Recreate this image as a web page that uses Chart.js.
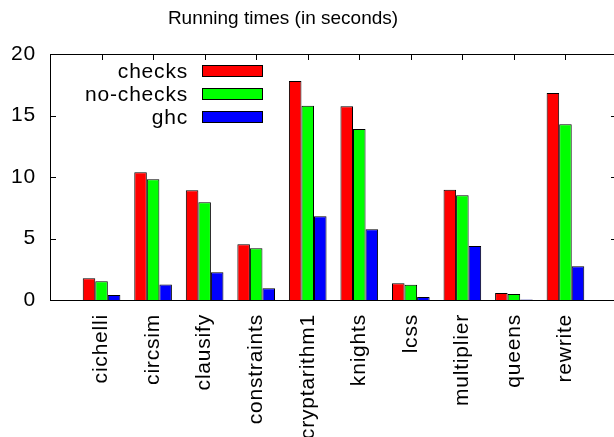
<!DOCTYPE html>
<html>
<head>
<meta charset="utf-8">
<script src="https://cdn.jsdelivr.net/npm/chart.js@4.4.0/dist/chart.umd.min.js"></script>
<style>
html, body { margin: 0; padding: 0; background: #fff; overflow: hidden; }
#wrap { width: 618px; height: 437px; }
</style>
</head>
<body>
<div id="wrap"><canvas id="chart" width="618" height="437"></canvas></div>
<script>
// benchmark programs (x axis)
var programs = ["cichelli", "circsim", "clausify", "constraints", "cryptarithm1",
                "knights", "lcss", "multiplier", "queens", "rewrite"];

// running times in seconds
var checks   = [1.76, 10.38, 8.92, 4.53, 17.80, 15.75, 1.36, 8.97, 0.57, 16.83];
var noChecks = [1.52,  9.81, 7.94, 4.20, 15.80, 13.90, 1.25, 8.51, 0.49, 14.28];
var ghc      = [0.41,  1.27, 2.25, 0.95,  6.80,  5.75, 0.24, 4.39, 0.05,  2.74];

var seriesNames = ["checks", "no-checks", "ghc"];
var yTicks = [0, 5, 10, 15, 20];
var titleText = "Running times (in seconds)";

var FONT = "'Liberation Sans', Arial, sans-serif";
var colors = ["#ff0000", "#00ff00", "#0000ff"];
var spacing = "0.8px";   // gnuplot's font runs a bit wider than Arial

function toPoints(values) {
    return values.map(function (v, i) { return { x: i, y: v }; });
}

// gnuplot style frame, inward ticks, title and key
var gnuplotBits = {
    id: "gnuplotBits",
    beforeDraw: function (chart) {
        chart.ctx.letterSpacing = spacing;
    },
    beforeDatasetsDraw: function (chart) {
        var ctx = chart.ctx, a = chart.chartArea;
        var xs = chart.scales.x, ys = chart.scales.y;
        var tl = 6;
        ctx.save();
        ctx.strokeStyle = "#000";
        ctx.lineWidth = 1;
        ctx.beginPath();
        yTicks.forEach(function (v) {
            var y = Math.round(ys.getPixelForValue(v)) + 0.5;
            ctx.moveTo(a.left, y); ctx.lineTo(a.left + tl, y);
            ctx.moveTo(a.right, y); ctx.lineTo(a.right - tl, y);
        });
        for (var i = -1; i <= programs.length; i++) {
            var x = Math.round(xs.getPixelForValue(i)) + 0.5;
            ctx.moveTo(x, a.top); ctx.lineTo(x, a.top + tl);
            ctx.moveTo(x, a.bottom); ctx.lineTo(x, a.bottom - tl);
        }
        ctx.stroke();
        ctx.restore();
    },
    afterDatasetsDraw: function (chart) {
        var ctx = chart.ctx, a = chart.chartArea;
        ctx.save();
        ctx.strokeStyle = "#000";
        ctx.lineWidth = 1;
        ctx.strokeRect(Math.round(a.left) + 0.5, Math.round(a.top) + 0.5,
                       Math.round(a.right - a.left), Math.round(a.bottom - a.top));

        // title
        ctx.letterSpacing = "0px";
        ctx.fillStyle = "#000";
        ctx.font = "19px " + FONT;
        ctx.textAlign = "center";
        ctx.textBaseline = "middle";
        ctx.fillText(titleText, 283, 19);

        // key, top left inside the plot
        ctx.letterSpacing = spacing;
        ctx.font = "21px " + FONT;
        ctx.textAlign = "right";
        seriesNames.forEach(function (name, k) {
            var cy = a.top + 17 + k * 23;
            ctx.fillStyle = "#000";
            ctx.fillText(name, a.left + 138, cy + 1);
            ctx.fillStyle = colors[k];
            ctx.fillRect(a.left + 152, cy - 6, 60, 12);
            ctx.strokeRect(a.left + 152.5, cy - 5.5, 60, 11);
        });
        ctx.restore();
    },
    afterDraw: function (chart) {
        chart.ctx.letterSpacing = "0px";
    }
};

var ctx = document.getElementById("chart");

var chartData = {
    datasets: [{
        label: seriesNames[0],
        data: toPoints(checks),
        backgroundColor: colors[0]
    }, {
        label: seriesNames[1],
        data: toPoints(noChecks),
        backgroundColor: colors[1]
    }, {
        label: seriesNames[2],
        data: toPoints(ghc),
        backgroundColor: colors[2]
    }]
};

chartData.datasets.forEach(function (d) {
    d.borderColor = "#000";
    d.borderWidth = 1;
    d.categoryPercentage = 0.73;
    d.barPercentage = 1.0;
});

var config = {
    type: "bar",
    data: chartData,
    options: {
        responsive: false,
        animation: false,
        devicePixelRatio: 1,
        layout: { padding: { top: 54, left: 0, right: 1, bottom: 0 } },
        plugins: {
            legend: { display: false },
            title: { display: false },
            tooltip: { enabled: false }
        },
        scales: {
            x: {
                type: "linear",
                min: -1,
                max: 10,
                offset: false,
                grid: { display: false, drawTicks: false },
                border: { display: false },
                ticks: {
                    stepSize: 1,
                    autoSkip: false,
                    minRotation: 90,
                    maxRotation: 90,
                    padding: 14,
                    color: "#000",
                    font: { family: FONT, size: 21 },
                    callback: function (v) { return programs[v] || ""; }
                },
                afterFit: function (s) {
                    s.height = 137;
                    s.paddingLeft = 0;
                    s.paddingRight = 0;
                }
            },
            y: {
                min: 0,
                max: 20,
                grid: { display: false, drawTicks: false },
                border: { display: false },
                ticks: {
                    stepSize: 5,
                    padding: 14,
                    color: "#000",
                    font: { family: FONT, size: 21 }
                },
                afterFit: function (s) { s.width = 50; }
            }
        }
    },
    plugins: [gnuplotBits]
};

var barChart = new Chart(ctx, config);
</script>
</body>
</html>
